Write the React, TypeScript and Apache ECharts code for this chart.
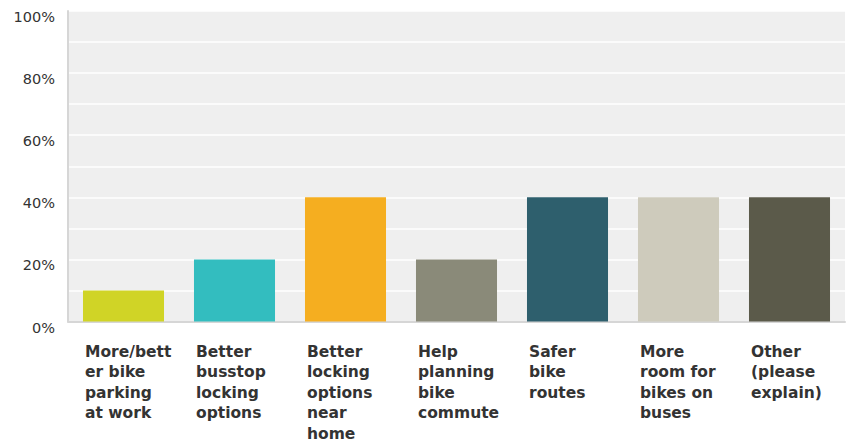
import React, { useEffect, useRef } from "react";
import * as echarts from "echarts";

const categories = [
  "More/bett\ner bike\nparking\nat work",
  "Better\nbusstop\nlocking\noptions",
  "Better\nlocking\noptions\nnear\nhome",
  "Help\nplanning\nbike\ncommute",
  "Safer\nbike\nroutes",
  "More\nroom for\nbikes on\nbuses",
  "Other\n(please\nexplain)",
];
const values = [10, 20, 40, 20, 40, 40, 40];
const colors = ["#d0d426", "#33bdbf", "#f5ae20", "#8a8a79", "#2e5f6d", "#cecbbc", "#5b5a4a"];
const yLabels = [0, 20, 40, 60, 80, 100];

export default function App() {
  const ref = useRef<HTMLDivElement>(null);
  useEffect(() => {
    if (!ref.current) return;
    const chart = echarts.init(ref.current, null, { renderer: "svg" });
    chart.setOption({
      animation: false,
      grid: {
        left: 68,
        right: 5,
        top: 11,
        bottom: 118,
        show: true,
        backgroundColor: "#efefef",
        borderWidth: 0,
      },
      xAxis: [
        {
          type: "category",
          data: categories,
          axisLine: { show: true, lineStyle: { color: "#d6d6d6", width: 2 } },
          axisTick: { show: false },
          axisLabel: { show: false },
        },
        {
          type: "category",
          position: "bottom",
          data: [...categories, ""],
          boundaryGap: false,
          axisLine: { show: false },
          axisTick: { show: false },
          axisLabel: {
            show: true,
            interval: 0,
            align: "left",
            verticalAlign: "top",
            padding: [0, 0, 0, 17],
            margin: 20,
            fontFamily: "DejaVu Sans, Verdana, sans-serif",
            fontWeight: "bold",
            fontSize: 15.5,
            lineHeight: 20.5,
            color: "#333333",
          },
        },
      ],
      yAxis: {
        type: "value",
        min: 0,
        max: 100,
        interval: 10,
        axisLine: { show: true, lineStyle: { color: "#d6d6d6", width: 2 } },
        axisTick: { show: false },
        splitLine: { show: true, lineStyle: { color: "#ffffff", width: 1.5 } },
        axisLabel: {
          margin: 13,
          fontFamily: "DejaVu Sans, Verdana, sans-serif",
          fontSize: 14.5,
          color: "#333333",
          verticalAlign: "top",
          lineHeight: 12,
          formatter: (v: number) => (yLabels.includes(v) ? v + "%" : ""),
        },
      },
      series: [
        {
          type: "bar",
          xAxisIndex: 0,
          data: values.map((v, i) => ({ value: v, itemStyle: { color: colors[i] } })),
          barCategoryGap: "27%",
        },
      ],
    });
    return () => chart.dispose();
  }, []);
  return (
    <div
      ref={ref}
      style={{ position: "absolute", left: 0, top: 0, width: 865, height: 444 }}
    />
  );
}
